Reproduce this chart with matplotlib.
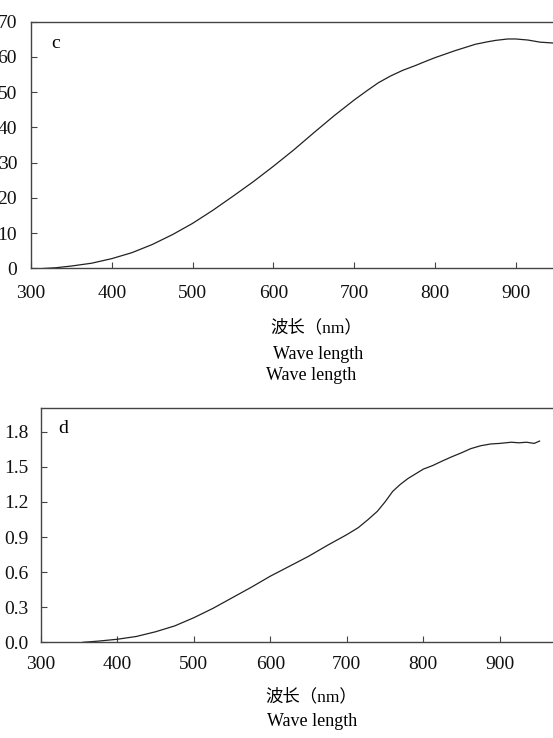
import matplotlib
matplotlib.use("Agg")
import matplotlib.pyplot as plt

plt.rcParams['font.family'] = ['Liberation Serif', 'Noto Sans CJK SC', 'DejaVu Sans']

# Panel c data
wl_c = [315, 330, 350, 375, 400, 425, 450, 475, 500, 525, 550, 575, 600, 625,
        650, 675, 700, 715, 730, 745, 760, 775, 790, 800, 825, 850, 865, 875,
        890, 900, 915, 930, 950]
val_c = [0.0, 0.2, 0.7, 1.5, 2.8, 4.5, 6.8, 9.6, 12.8, 16.5, 20.5, 24.6, 29.0, 33.6,
         38.5, 43.3, 47.8, 50.3, 52.7, 54.6, 56.2, 57.5, 58.9, 59.8, 61.8, 63.6, 64.3,
         64.7, 65.1, 65.1, 64.8, 64.2, 63.9]

# Panel d data
wl_d = [355, 375, 400, 425, 450, 475, 500, 525, 550, 575, 600, 625, 650, 675, 700,
        715, 728, 740, 750, 760, 770, 780, 790, 800, 812, 825, 837, 850, 862, 875,
        888, 900, 915, 925, 935, 945, 952]
val_d = [0.0, 0.01, 0.026, 0.05, 0.09, 0.14, 0.21, 0.29, 0.38, 0.47, 0.565, 0.65, 0.735,
         0.83, 0.92, 0.98, 1.05, 1.12, 1.2, 1.29, 1.35, 1.40, 1.44, 1.48, 1.51, 1.55,
         1.585, 1.62, 1.655, 1.68, 1.695, 1.70, 1.71, 1.705, 1.71, 1.70, 1.72]

xticks = [300, 400, 500, 600, 700, 800, 900]
yticks_c = [0, 10, 20, 30, 40, 50, 60, 70]
yticks_d = [0.0, 0.3, 0.6, 0.9, 1.2, 1.5, 1.8]

W, H = 553, 738
fig = plt.figure(figsize=(W / 100, H / 100), dpi=100)

def px_axes(left, top, right, bottom):
    return [left / W, 1 - bottom / H, (right - left) / W, (bottom - top) / H]

line_col = '#222222'
spine_col = '#444444'

def style(ax, ypad, xpad):
    for s in ax.spines.values():
        s.set_color(spine_col)
        s.set_linewidth(1.0)
    ax.tick_params(direction='in', length=4, width=0.8, color=spine_col,
                   labelsize=14, labelcolor='#111111')
    ax.tick_params(axis='x', pad=xpad)
    ax.tick_params(axis='y', pad=ypad)

# top panel c: 300 at x=31, 80.8 px per 100 nm
ax1 = fig.add_axes(px_axes(31, 21.7, 31 + 7 * 80.8, 268.5))
ax1.plot(wl_c, val_c, color=line_col, lw=0.9)
ax1.set_xlim(300, 1000)
ax1.set_ylim(0, 70)
ax1.set_xticks(xticks)
ax1.set_yticks(yticks_c)
ax1.set_yticklabels([str(v) for v in yticks_c])
style(ax1, ypad=10, xpad=12)
fig.text(55.5 / W, 1 - 44 / H, 'c', fontsize=14, ha='center', va='center')

# bottom panel d: 300 at x=40.8, 76.5 px per 100 nm
ax2 = fig.add_axes(px_axes(40.8, 408.3, 40.8 + 7 * 76.5, 642.3))
ax2.plot(wl_d, val_d, color=line_col, lw=0.9)
ax2.set_xlim(300, 1000)
ax2.set_ylim(0, 2.0)
ax2.set_xticks(xticks)
ax2.set_yticks(yticks_d)
ax2.set_yticklabels([f'{v:.1f}' for v in yticks_d])
style(ax2, ypad=9, xpad=10)
fig.text(63.5 / W, 1 - 428 / H, 'd', fontsize=14, ha='center', va='center')

# axis label texts
fig.text(316.5 / W, 1 - 328 / H, '波长（nm）', fontsize=12.5, ha='center', va='center')
fig.text(318 / W, 1 - 354 / H, 'Wave length', fontsize=13, ha='center', va='center')
fig.text(311 / W, 1 - 375 / H, 'Wave length', fontsize=13, ha='center', va='center')
fig.text(311.7 / W, 1 - 697 / H, '波长（nm）', fontsize=12.5, ha='center', va='center')
fig.text(312.5 / W, 1 - 722 / H, 'Wave length', fontsize=13, ha='center', va='center')

fig.savefig('out.png', dpi=100)
